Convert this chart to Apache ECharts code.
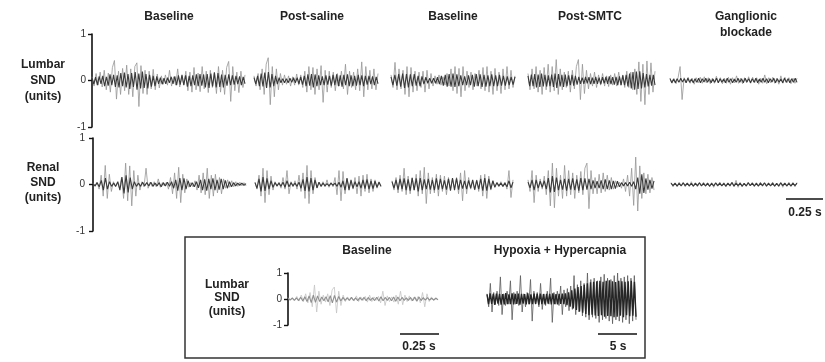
<!DOCTYPE html>
<html>
<head>
<meta charset="utf-8">
<style>
html,body{margin:0;padding:0;background:#fff;}
#chart{width:825px;height:362px;}
</style>
<script src="https://cdn.jsdelivr.net/npm/echarts@6/dist/echarts.min.js"></script>
</head>
<body>
<div id="chart"></div>
<script>
// column headings and row labels
var columnTitles = ['Baseline', 'Post-saline', 'Baseline', 'Post-SMTC', 'Ganglionic\nblockade'];
var rowLabels = ['Lumbar\nSND\n(units)', 'Renal\nSND\n(units)'];
var insetTitles = ['Baseline', 'Hypoxia + Hypercapnia'];
var scaleLabels = ['0.25 s', '0.25 s', '5 s'];

// lumbar SND (units): large spikes
var lumbarBaseline1 = [0.08,-0.12,0.15,-0.1,0.18,-0.14,0.22,-0.2,0.16,-0.25,0.28,0.43,-0.4,0.2,-0.3,0.26,-0.22,0.33,-0.3,0.25,-0.35,0.3,0.38,-0.56,0.32,-0.28,0.22,-0.3,0.2,-0.18,0.24,-0.2,0.14,-0.16,0.1,-0.08,0.12,-0.1,0.22,-0.12,0.08,-0.1,0.25,-0.14,0.1,-0.09,0.2,-0.22,0.18,-0.25,0.28,-0.2,0.16,-0.24,0.3,-0.18,0.2,-0.26,0.22,-0.15,0.18,-0.28,0.3,-0.25,0.22,-0.3,0.28,0.41,-0.45,0.3,-0.22,0.18,-0.26,0.2,-0.15,0.12];
var lumbarPostSaline = [0.1,-0.12,0.15,-0.2,0.25,-0.3,0.35,0.49,-0.52,0.3,-0.35,0.25,-0.2,0.15,-0.1,0.12,-0.08,0.1,-0.12,0.08,-0.1,0.14,-0.1,0.12,-0.15,0.2,-0.25,0.3,-0.2,0.28,-0.3,0.25,-0.2,0.32,-0.47,0.22,-0.25,0.2,-0.15,0.18,-0.22,0.15,-0.12,0.2,-0.18,0.35,-0.3,0.2,-0.15,0.18,-0.2,0.25,-0.22,0.4,-0.35,0.3,-0.2,0.22,-0.18,0.25,-0.2,0.15];
var lumbarBaseline2 = [0.12,-0.15,0.39,-0.2,0.25,-0.18,0.22,-0.3,0.3,-0.35,0.28,-0.25,0.2,-0.22,0.18,-0.15,0.2,-0.25,0.22,-0.18,0.15,-0.12,0.1,-0.08,0.12,-0.1,0.08,-0.1,0.15,-0.12,0.25,-0.22,0.3,-0.28,0.26,-0.35,0.3,-0.22,0.2,-0.15,0.18,-0.2,0.15,-0.12,0.22,-0.18,0.28,-0.22,0.3,-0.25,0.2,-0.3,0.26,-0.22,0.18,-0.28,0.25,-0.2,0.3,-0.18,0.22,-0.15,0.1];
var lumbarPostSMTC = [0.15,-0.2,0.25,-0.18,0.3,-0.25,0.22,-0.3,0.28,-0.2,0.35,-0.25,0.3,-0.22,0.45,-0.3,0.25,-0.2,0.18,-0.15,0.2,-0.25,0.22,-0.18,0.3,0.45,-0.41,0.35,-0.28,0.22,-0.18,0.15,-0.12,0.18,-0.15,0.12,-0.1,0.15,-0.12,0.1,-0.13,0.12,-0.1,0.15,-0.12,0.18,-0.1,0.12,-0.15,0.2,-0.15,0.18,-0.2,0.25,-0.3,0.4,-0.45,0.35,-0.52,0.42,-0.3,0.38,-0.25,0.2];
var lumbarGanglionic = [0.05,-0.06,0.04,-0.07,0.06,0.3,-0.41,0.06,-0.05,0.07,-0.06,0.05,-0.08,0.06,-0.05,0.07,-0.06,0.08,-0.05,0.06,-0.07,0.05,-0.06,0.09,-0.05,0.06,-0.07,0.05,-0.06,0.07,-0.08,0.06,-0.05,0.1,-0.06,0.05,-0.07,0.06,-0.05,0.08,-0.06,0.07,-0.05,0.06,-0.08,0.05,-0.06,0.12,-0.07,0.06,-0.05,0.07,-0.06,0.05,-0.08,0.1,-0.06,0.07,-0.05,0.06,-0.07,0.05,-0.06,0.05];

// lumbar SND: the dense dark core of each trace
var lumbarBaseline1Core = [0.06,-0.08,0.07,-0.1,0.09,-0.07,0.1,-0.12,0.08,-0.11,0.13,-0.1,0.12,-0.14,0.11,-0.15,0.16,-0.12,0.17,-0.15,0.14,-0.18,0.16,-0.14,0.18,-0.2,0.15,-0.17,0.19,-0.16,0.14,-0.17,0.12,-0.13,0.1,-0.12,0.09,-0.07,0.06,-0.08,0.05,-0.07,0.06,-0.05,0.08,-0.07,0.09,-0.1,0.11,-0.09,0.12,-0.1,0.11,-0.13,0.1,-0.12,0.11,-0.1,0.13,-0.12,0.14,-0.11,0.13,-0.15,0.14,-0.16,0.15,-0.13,0.17,-0.15,0.16,-0.14,0.13,-0.15,0.12,-0.11,0.13,-0.1,0.11,-0.09,0.1,-0.08,0.09,-0.1,0.08,-0.07];
var lumbarPostSalineCore = [0.06,-0.08,0.1,-0.12,0.15,-0.13,0.17,-0.16,0.18,-0.15,0.14,-0.12,0.1,-0.08,0.06,-0.05,0.04,-0.05,0.04,-0.05,0.05,-0.04,0.06,-0.05,0.06,-0.07,0.08,-0.09,0.1,-0.12,0.13,-0.11,0.14,-0.15,0.13,-0.12,0.11,-0.1,0.09,-0.1,0.11,-0.09,0.1,-0.11,0.12,-0.1,0.13,-0.12,0.11,-0.13,0.12,-0.1,0.13,-0.12,0.11,-0.12,0.1,-0.11,0.12,-0.1,0.11,-0.12,0.1,-0.09,0.1,-0.08,0.09,-0.1,0.08,-0.07];
var lumbarBaseline2Core = [0.08,-0.1,0.12,-0.11,0.14,-0.13,0.15,-0.16,0.14,-0.15,0.13,-0.12,0.14,-0.11,0.1,-0.12,0.09,-0.08,0.07,-0.06,0.05,-0.06,0.05,-0.06,0.07,-0.08,0.1,-0.11,0.12,-0.13,0.14,-0.13,0.15,-0.14,0.13,-0.12,0.11,-0.1,0.09,-0.1,0.11,-0.1,0.12,-0.13,0.14,-0.12,0.13,-0.14,0.12,-0.13,0.11,-0.12,0.13,-0.12,0.11,-0.12,0.12,-0.11,0.1,-0.11,0.09,-0.1,0.08,-0.09,0.08];
var lumbarPostSMTCCore = [0.1,-0.12,0.13,-0.12,0.14,-0.15,0.13,-0.14,0.15,-0.13,0.12,-0.13,0.11,-0.12,0.13,-0.14,0.15,-0.16,0.14,-0.13,0.12,-0.14,0.13,-0.12,0.11,-0.1,0.12,-0.11,0.1,-0.09,0.08,-0.07,0.06,-0.07,0.08,-0.06,0.07,-0.08,0.06,-0.07,0.08,-0.07,0.06,-0.08,0.07,-0.06,0.08,-0.07,0.09,-0.08,0.07,-0.09,0.08,-0.1,0.09,-0.1,0.11,-0.1,0.12,-0.13,0.15,-0.17,0.18,-0.2,0.19,-0.18,0.2,-0.17,0.16,-0.15,0.14,-0.13,0.12,-0.11,0.12,-0.1];
var lumbarGanglionicCore = [0.04,-0.05,0.03,-0.05,0.04,-0.04,0.05,-0.03,0.04,-0.05,0.05,-0.04,0.03,-0.05,0.04,-0.04,0.05,-0.05,0.04,-0.03,0.05,-0.04,0.04,-0.05,0.03,-0.04,0.05,-0.05,0.04,-0.04,0.03,-0.05,0.05,-0.04,0.04,-0.05,0.03,-0.04,0.05,-0.04,0.04,-0.05,0.05,-0.03,0.04,-0.05,0.04,-0.04,0.05,-0.05,0.03,-0.04,0.05,-0.04,0.04,-0.05,0.04,-0.03,0.05,-0.05,0.04,-0.04,0.03,-0.05,0.05,-0.04,0.04,-0.05,0.04,-0.04,0.05,-0.04];

// renal SND (units)
var renalBaseline1 = [0.03,-0.04,0.05,-0.1,0.2,-0.25,0.41,-0.3,0.22,-0.15,0.06,-0.05,0.04,-0.08,0.15,-0.3,0.46,-0.35,0.4,-0.46,0.3,-0.25,0.2,-0.12,0.06,-0.05,0.35,-0.08,0.05,-0.04,0.06,-0.05,0.12,-0.06,0.04,-0.03,0.05,-0.1,0.15,-0.2,0.25,-0.3,0.37,-0.39,0.22,-0.18,0.12,-0.06,0.04,-0.05,0.08,-0.12,0.2,-0.18,0.25,-0.22,0.35,-0.3,0.2,-0.25,0.22,-0.18,0.15,-0.2,0.12,-0.08,0.1,-0.06,0.08,-0.05,0.06,-0.04,0.05,-0.03,0.04,-0.03];
var renalPostSaline = [0.05,-0.1,0.2,-0.25,0.35,-0.39,0.3,-0.22,0.18,-0.12,0.06,-0.04,0.05,-0.08,0.15,-0.1,0.3,-0.2,0.06,-0.05,0.08,-0.1,0.2,-0.15,0.25,-0.3,0.41,-0.41,0.3,-0.2,0.15,-0.08,0.05,-0.04,0.06,-0.05,0.1,-0.06,0.04,-0.05,0.15,-0.22,0.3,-0.35,0.28,-0.2,0.12,-0.06,0.05,-0.1,0.15,-0.2,0.18,-0.25,0.2,-0.15,0.22,-0.18,0.12,-0.15,0.1,-0.08,0.06,-0.05];
var renalBaseline2 = [0.08,-0.12,0.15,-0.18,0.2,-0.15,0.35,-0.22,0.18,-0.2,0.15,-0.12,0.22,-0.25,0.3,-0.2,0.37,-0.41,0.25,-0.2,0.15,-0.18,0.22,-0.25,0.2,-0.15,0.18,-0.22,0.15,-0.1,0.12,-0.08,0.15,-0.2,0.25,-0.35,0.3,-0.2,0.15,-0.1,0.08,-0.12,0.1,-0.15,0.2,-0.25,0.22,-0.3,0.18,-0.12,0.08,-0.05,0.04,-0.05,0.06,-0.04,0.05,-0.1,0.3,-0.28,0.1];
var renalPostSMTC = [0.1,-0.15,0.3,-0.39,0.2,-0.15,0.12,-0.1,0.18,-0.22,0.3,-0.46,0.46,-0.5,0.35,-0.25,0.2,-0.3,0.41,-0.25,0.3,-0.22,0.25,-0.3,0.2,-0.18,0.28,-0.22,0.35,0.46,-0.52,0.3,-0.2,0.15,-0.2,0.22,-0.18,0.25,-0.15,0.2,-0.12,0.15,-0.1,0.08,-0.06,0.05,-0.08,0.12,-0.15,0.2,-0.25,0.35,-0.45,0.59,-0.57,0.4,-0.3,0.25,-0.2,0.22,-0.18,0.15,-0.12];
var renalGanglionic = [0.04,-0.05,0.03,-0.04,0.05,-0.03,0.04,-0.05,0.03,-0.04,0.06,-0.04,0.03,-0.05,0.04,-0.03,0.05,-0.04,0.03,-0.05,0.04,-0.06,0.03,-0.04,0.05,-0.03,0.04,-0.05,0.03,-0.04,0.05,-0.04,0.09,-0.06,0.04,-0.05,0.03,-0.04,0.05,-0.03,0.04,-0.05,0.04,-0.03,0.05,-0.04,0.03,-0.05,0.04,-0.03,0.05,-0.04,0.03,-0.05,0.04,-0.06,0.03,-0.04,0.05,-0.03,0.04,-0.05,0.04];

var renalBaseline1Core = [0.02,-0.03,0.04,-0.05,0.09,-0.12,0.14,-0.1,0.06,-0.04,0.03,-0.04,0.06,-0.12,0.16,-0.19,0.2,-0.17,0.15,-0.1,0.06,-0.04,0.03,-0.04,0.05,-0.03,0.04,-0.03,0.05,-0.04,0.03,-0.03,0.04,-0.05,0.04,-0.03,0.05,-0.04,0.06,-0.08,0.1,-0.13,0.14,-0.12,0.13,-0.1,0.08,-0.05,0.04,-0.05,0.06,-0.07,0.1,-0.12,0.11,-0.13,0.12,-0.1,0.13,-0.12,0.1,-0.11,0.12,-0.1,0.09,-0.08,0.06,-0.05,0.04,-0.03,0.03,-0.02,0.03,-0.02,0.02];
var renalPostSalineCore = [0.04,-0.08,0.12,-0.15,0.16,-0.14,0.13,-0.1,0.08,-0.06,0.04,-0.03,0.03,-0.04,0.05,-0.06,0.08,-0.05,0.04,-0.03,0.03,-0.04,0.05,-0.08,0.11,-0.14,0.16,-0.15,0.14,-0.12,0.1,-0.07,0.05,-0.04,0.03,-0.03,0.02,-0.03,0.03,-0.02,0.03,-0.04,0.05,-0.06,0.08,-0.12,0.14,-0.12,0.1,-0.08,0.06,-0.05,0.06,-0.08,0.1,-0.09,0.11,-0.1,0.08,-0.09,0.07,-0.06,0.05,-0.04];
var renalBaseline2Core = [0.06,-0.08,0.1,-0.11,0.12,-0.1,0.13,-0.12,0.11,-0.13,0.14,-0.12,0.13,-0.15,0.14,-0.12,0.11,-0.1,0.12,-0.11,0.1,-0.12,0.13,-0.11,0.12,-0.1,0.09,-0.11,0.12,-0.13,0.14,-0.12,0.13,-0.11,0.1,-0.09,0.08,-0.1,0.09,-0.08,0.1,-0.11,0.09,-0.1,0.12,-0.13,0.14,-0.13,0.12,-0.1,0.08,-0.06,0.04,-0.03,0.03,-0.04,0.03,-0.05,0.08,-0.07,0.05];
var renalPostSMTCCore = [0.05,-0.07,0.1,-0.12,0.1,-0.08,0.07,-0.06,0.08,-0.1,0.14,-0.17,0.18,-0.16,0.15,-0.12,0.1,-0.11,0.12,-0.13,0.12,-0.11,0.13,-0.12,0.11,-0.13,0.14,-0.12,0.13,-0.11,0.12,-0.1,0.09,-0.08,0.07,-0.08,0.09,-0.1,0.11,-0.1,0.09,-0.1,0.08,-0.09,0.07,-0.05,0.04,-0.03,0.04,-0.03,0.05,-0.04,0.06,-0.1,0.15,-0.2,0.22,-0.18,0.13,-0.11,0.1,-0.09,0.08];
var renalGanglionicCore = [0.03,-0.025,0.03,-0.035,0.025,-0.03,0.035,-0.025,0.03,-0.03,0.025,-0.035,0.03,-0.025,0.035,-0.03,0.025,-0.03,0.03,-0.035,0.025,-0.03,0.035,-0.025,0.03,-0.03,0.025,-0.035,0.03,-0.025,0.04,-0.035,0.03,-0.025,0.03,-0.035,0.025,-0.03,0.035,-0.025,0.03,-0.03,0.025,-0.035,0.03,-0.025,0.035,-0.03,0.025,-0.03,0.03,-0.035,0.025,-0.03,0.035,-0.025,0.03,-0.03,0.025,-0.035,0.03,-0.025,0.03];

// inset: lumbar baseline vs hypoxia + hypercapnia
var insetBaseline = [0.05,-0.04,0.06,-0.05,0.1,-0.08,0.15,-0.1,0.2,-0.15,0.25,-0.3,0.54,-0.5,0.3,-0.2,0.15,-0.12,0.2,-0.25,0.35,0.46,-0.54,0.3,-0.25,0.15,-0.1,0.08,-0.06,0.05,-0.08,0.12,-0.1,0.08,-0.06,0.1,-0.12,0.15,-0.1,0.08,-0.05,0.1,-0.15,0.3,-0.25,0.12,-0.1,0.08,-0.12,0.15,-0.2,0.3,-0.22,0.15,-0.1,0.12,-0.08,0.06,-0.05,0.1,-0.15,0.25,-0.3,0.2,-0.1,0.08,-0.06,0.05,-0.04];
var insetHypoxia = [0.2,-0.3,0.6,-0.5,0.25,-0.2,0.3,-0.25,0.85,-0.6,0.2,-0.25,0.3,-0.2,0.7,-0.8,0.25,-0.2,0.3,-0.25,0.9,-0.5,0.2,-0.3,0.25,-0.2,0.75,-0.85,0.3,-0.2,0.25,-0.3,0.6,-0.4,0.2,-0.25,0.3,-0.2,0.8,-0.9,0.25,-0.2,0.3,-0.25,0.5,-0.6,0.35,-0.3,0.4,-0.45,0.5,-0.4,0.9,-0.6,0.55,-0.5,0.7,-0.65,0.6,-0.7,1.0,-0.8,0.75,-0.7,0.8,-0.75,0.7,-0.9,0.85,-0.8,0.95,-0.75,0.8,-0.85,0.75,-0.95,0.9,-0.8,1.0,-0.85,0.8,-0.9,0.85,-0.8,0.9,-0.95,0.8,-0.85,0.9,-0.8];

var insetBaselineCore = [0.03,-0.04,0.03,-0.05,0.04,-0.06,0.07,-0.08,0.09,-0.1,0.12,-0.14,0.15,-0.13,0.12,-0.1,0.08,-0.07,0.09,-0.11,0.13,-0.15,0.14,-0.12,0.1,-0.08,0.06,-0.05,0.04,-0.05,0.06,-0.05,0.04,-0.06,0.05,-0.04,0.06,-0.07,0.06,-0.05,0.04,-0.06,0.07,-0.08,0.09,-0.07,0.06,-0.05,0.06,-0.07,0.08,-0.09,0.08,-0.07,0.06,-0.05,0.04,-0.05,0.06,-0.07,0.08,-0.09,0.08,-0.06,0.05,-0.04,0.05,-0.04,0.03,-0.04,0.03,-0.03];
var insetHypoxiaCore = [0.18,-0.2,0.22,-0.19,0.2,-0.23,0.21,-0.18,0.2,-0.22,0.19,-0.21,0.23,-0.2,0.18,-0.2,0.22,-0.21,0.2,-0.19,0.21,-0.22,0.2,-0.18,0.19,-0.21,0.22,-0.2,0.18,-0.2,0.21,-0.19,0.2,-0.22,0.21,-0.2,0.19,-0.21,0.2,-0.18,0.2,-0.21,0.22,-0.2,0.19,-0.21,0.2,-0.19,0.21,-0.2,0.22,-0.24,0.26,-0.3,0.33,-0.36,0.4,-0.42,0.46,-0.48,0.5,-0.53,0.55,-0.58,0.6,-0.62,0.64,-0.6,0.66,-0.63,0.68,-0.65,0.7,-0.62,0.66,-0.68,0.7,-0.65,0.72,-0.66,0.68,-0.7,0.65,-0.68,0.7,-0.64,0.68,-0.7,0.66,-0.62,0.68,-0.66,0.7,-0.64,0.66,-0.68];

window.onload = function () {

var font = "'Liberation Sans', Arial, sans-serif";
var ink = '#222';

var traces = [
    {data: lumbarBaseline1, core: lumbarBaseline1Core, left: 92, width: 153, top: 34, height: 93, axis: 2},
    {data: lumbarPostSaline, core: lumbarPostSalineCore, left: 254, width: 124, top: 34, height: 93},
    {data: lumbarBaseline2, core: lumbarBaseline2Core, left: 391, width: 124, top: 34, height: 93},
    {data: lumbarPostSMTC, core: lumbarPostSMTCCore, left: 528, width: 127, top: 34, height: 93},
    {data: lumbarGanglionic, core: lumbarGanglionicCore, left: 670, width: 127, top: 34, height: 93},
    {data: renalBaseline1, core: renalBaseline1Core, left: 93, width: 153, top: 138, height: 93, axis: 4},
    {data: renalPostSaline, core: renalPostSalineCore, left: 255, width: 126, top: 138, height: 93},
    {data: renalBaseline2, core: renalBaseline2Core, left: 392, width: 121, top: 138, height: 93},
    {data: renalPostSMTC, core: renalPostSMTCCore, left: 528, width: 126, top: 138, height: 93},
    {data: renalGanglionic, core: renalGanglionicCore, left: 671, width: 126, top: 138, height: 93},
    {data: insetBaseline, core: insetBaselineCore, left: 288, width: 150, top: 273, height: 52, axis: 2,
     spike: '#c4c4c4', dark: '#8f8f8f'},
    {data: insetHypoxia, core: insetHypoxiaCore, left: 487, width: 149, top: 273, height: 52,
     spike: '#5a5a5a', dark: '#262626', coreWidth: 1.4}
];

var grid = [], xAxis = [], yAxis = [], series = [];
traces.forEach(function (t, i) {
    var spike = t.spike || '#959595';
    var dark = t.dark || '#3a3a3a';
    grid.push({left: t.left, top: t.top, width: t.width, height: t.height});
    xAxis.push({type: 'value', gridIndex: i, min: 0, max: t.data.length - 1, show: false});
    xAxis.push({type: 'value', gridIndex: i, min: 0, max: t.core.length - 1, show: false});
    var showAxis = t.axis !== undefined;
    yAxis.push({
        type: 'value', gridIndex: i, min: -1, max: 1, interval: 1,
        show: showAxis, offset: showAxis ? t.axis : 0,
        axisLine: {show: true, lineStyle: {color: '#111', width: 1.6}},
        axisTick: {show: true, length: 4, lineStyle: {color: '#111', width: 1.4}},
        axisLabel: {color: '#333', fontSize: 10, fontFamily: font, margin: 4},
        splitLine: {show: false}
    });
    // light spikes underneath, dense dark core on top
    series.push({
        type: 'line', xAxisIndex: 2 * i, yAxisIndex: i,
        data: t.data.map(function (v, k) { return [k, v]; }),
        showSymbol: false, silent: true, z: 2,
        lineStyle: {color: spike, width: 0.8}
    });
    series.push({
        type: 'line', xAxisIndex: 2 * i + 1, yAxisIndex: i,
        data: t.core.map(function (v, k) { return [k, v]; }),
        showSymbol: false, silent: true, z: 3,
        lineStyle: {color: dark, width: t.coreWidth || 1.1}
    });
});

function label(text, x, y, size, lh) {
    return {
        type: 'text', x: x, y: y, silent: true,
        style: {text: text, fill: ink, font: 'bold ' + (size || 12) + 'px ' + font,
                textAlign: 'center', textVerticalAlign: 'middle', lineHeight: lh || 16}
    };
}
function bar(x1, x2, y) {
    return {type: 'line', silent: true, shape: {x1: x1, y1: y, x2: x2, y2: y},
            style: {stroke: '#111', lineWidth: 1.4}};
}

var colX = [169, 312, 453, 590, 746];
var graphic = [];
columnTitles.forEach(function (t, i) {
    graphic.push(label(t, colX[i], i == 4 ? 25 : 17));
});
graphic.push(label(rowLabels[0], 43, 81, 12, 16));
graphic.push(label(rowLabels[1], 43, 183, 12, 15));
graphic.push(bar(786, 823, 199));
graphic.push(label(scaleLabels[0], 805, 213));

graphic.push({type: 'rect', silent: true, shape: {x: 185, y: 237, width: 460, height: 121},
              style: {fill: 'none', stroke: '#333', lineWidth: 1.5}});
graphic.push(label(insetTitles[0], 367, 251));
graphic.push(label(insetTitles[1], 560, 251));
graphic.push(label(rowLabels[0], 227, 298, 12, 13.5));
graphic.push(bar(400, 439, 334));
graphic.push(label(scaleLabels[1], 419, 347));
graphic.push(bar(598, 637, 334));
graphic.push(label(scaleLabels[2], 618, 347));

var chart = echarts.init(document.getElementById('chart'));
chart.setOption({
    animation: false,
    backgroundColor: '#fff',
    grid: grid,
    xAxis: xAxis,
    yAxis: yAxis,
    series: series,
    graphic: graphic
});

};
</script>
</body>
</html>
